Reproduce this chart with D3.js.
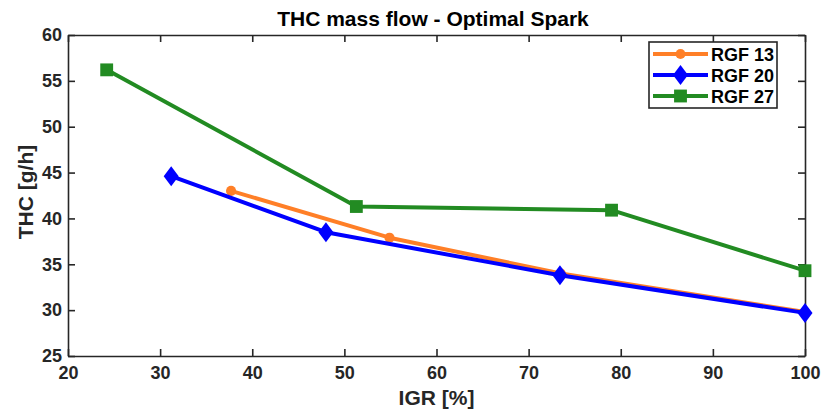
<!DOCTYPE html>
<html>
<head>
<meta charset="utf-8">
<script src="https://cdn.jsdelivr.net/npm/d3@7"></script>
<style>
  body { margin: 0; background: #fff; }
  svg { display: block; font-family: "Liberation Sans", Arial, sans-serif; }
  .axis text { font-size: 18px; font-weight: bold; fill: #262626; }
  .axis path, .axis line { stroke: #262626; stroke-width: 1.6; }
</style>
</head>
<body>
<div id="chart"></div>
<script>
// series
const seriesNames = ["RGF 13", "RGF 20", "RGF 27"];
const seriesColors = ["#ff7f27", "#0000ff", "#228b22"];
const seriesMarkers = ["circle", "diamond", "square"];
const igr13 = [37.7, 54.9, 73.5, 100];
const thc13 = [43.0, 37.9, 34.0, 29.8];
const igr20 = [31.2, 48.0, 73.4, 100];
const thc20 = [44.6, 38.5, 33.8, 29.7];
const igr27 = [24.2, 51.3, 79.0, 100];
const thc27 = [56.2, 41.3, 40.9, 34.3];
const xTicks = [20, 30, 40, 50, 60, 70, 80, 90, 100];
const yTicks = [25, 30, 35, 40, 45, 50, 55, 60];

const width = 822, height = 413;
const margin = {left: 68, right: 17, top: 35, bottom: 57};
const innerW = width - margin.left - margin.right,
      innerH = height - margin.top - margin.bottom;

const series = [
  {name: seriesNames[0], color: seriesColors[0], marker: seriesMarkers[0], x: igr13, y: thc13},
  {name: seriesNames[1], color: seriesColors[1], marker: seriesMarkers[1], x: igr20, y: thc20},
  {name: seriesNames[2], color: seriesColors[2], marker: seriesMarkers[2], x: igr27, y: thc27}
];

const svg = d3.select("#chart").append("svg")
  .attr("width", width).attr("height", height);
const g = svg.append("g").attr("transform", "translate(" + margin.left + "," + margin.top + ")");

const x = d3.scaleLinear().domain([20, 100]).range([0, innerW]);
const y = d3.scaleLinear().domain([25, 60]).range([innerH, 0]);

// axes, MATLAB style: box on, ticks pointing in
const tick = 7;
function styleAxis(sel) {
  sel.attr("font-family", "Liberation Sans, Arial, sans-serif").attr("font-size", 18);
}
g.append("g").attr("class", "axis")
  .attr("transform", "translate(0," + innerH + ")")
  .call(d3.axisBottom(x).tickValues(xTicks).tickSizeInner(-tick).tickSizeOuter(0).tickPadding(10))
  .call(styleAxis);
g.append("g").attr("class", "axis")
  .call(d3.axisLeft(y).tickValues(yTicks).tickSizeInner(-tick).tickSizeOuter(0).tickPadding(6))
  .call(styleAxis);
g.append("g").attr("class", "axis")
  .call(d3.axisTop(x).tickValues(xTicks).tickSizeInner(-tick).tickSizeOuter(0).tickFormat(""));
g.append("g").attr("class", "axis")
  .attr("transform", "translate(" + innerW + ",0)")
  .call(d3.axisRight(y).tickValues(yTicks).tickSizeInner(-tick).tickSizeOuter(0).tickFormat(""));

function markerPath(type) {
  if (type === "circle") return d3.symbol(d3.symbolCircle, 80)();
  if (type === "square") return d3.symbol(d3.symbolSquare, 165)();
  return "M0,-10L7.5,0L0,10L-7.5,0Z";
}

const line = d3.line().x(d => x(d[0])).y(d => y(d[1]));

series.forEach(s => {
  const pts = s.x.map((v, i) => [v, s.y[i]]);
  g.append("path").datum(pts)
    .attr("fill", "none").attr("stroke", s.color).attr("stroke-width", 4)
    .attr("stroke-linejoin", "round")
    .attr("d", line);
  g.selectAll(null).data(pts).enter().append("path")
    .attr("transform", d => "translate(" + x(d[0]) + "," + y(d[1]) + ")")
    .attr("d", markerPath(s.marker))
    .attr("fill", s.color);
});

// title and labels
svg.append("text").attr("x", 433).attr("y", 26)
  .attr("text-anchor", "middle").attr("font-size", 21).attr("font-weight", "bold")
  .attr("fill", "#000").text("THC mass flow - Optimal Spark");
svg.append("text").attr("x", margin.left + innerW / 2).attr("y", 405)
  .attr("text-anchor", "middle").attr("font-size", 21).attr("font-weight", "bold")
  .attr("fill", "#262626").text("IGR [%]");
svg.append("text")
  .attr("transform", "translate(33,192) rotate(-90)")
  .attr("text-anchor", "middle").attr("font-size", 21).attr("font-weight", "bold")
  .attr("fill", "#262626").text("THC [g/h]");

// legend
const lg = svg.append("g").attr("transform", "translate(649,42)");
lg.append("rect").attr("width", 128).attr("height", 66)
  .attr("fill", "#fff").attr("stroke", "#262626").attr("stroke-width", 1.6);
series.forEach((s, i) => {
  const cy = 12 + i * 21;
  lg.append("line").attr("x1", 4).attr("x2", 59).attr("y1", cy).attr("y2", cy)
    .attr("stroke", s.color).attr("stroke-width", 4);
  lg.append("path").attr("transform", "translate(31.5," + cy + ")")
    .attr("d", markerPath(s.marker)).attr("fill", s.color);
  lg.append("text").attr("x", 62).attr("y", cy + 6.5)
    .attr("font-size", 18).attr("font-weight", "bold").attr("fill", "#000")
    .text(s.name);
});
</script>
</body>
</html>
